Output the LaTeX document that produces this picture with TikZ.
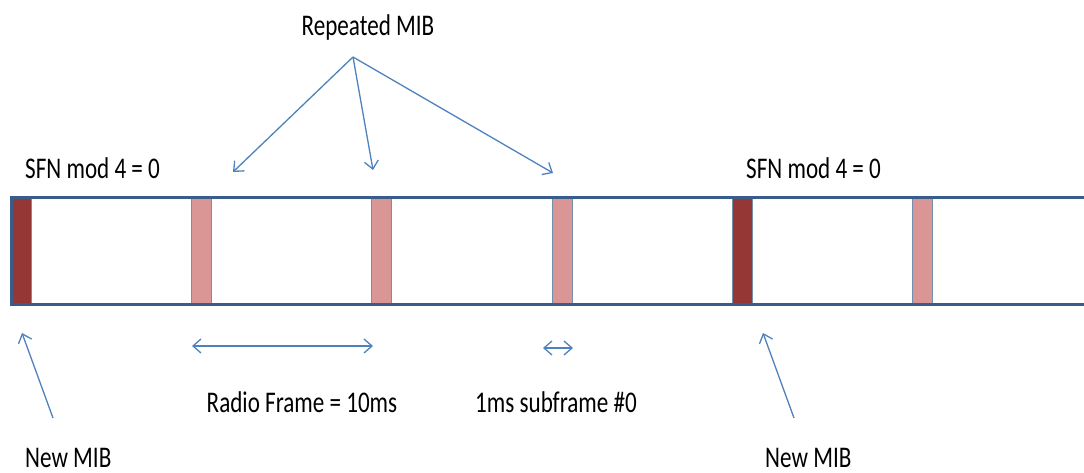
\documentclass[tikz,border=0pt]{standalone}
\usepackage{fontspec}
\setmainfont{Carlito}
\newfontfamily\lblfont[FakeStretch=0.77]{Carlito}
\usetikzlibrary{arrows.meta}
\definecolor{barblue}{HTML}{385D8A}
\definecolor{arrowblue}{HTML}{4F81BD}
\definecolor{mibdark}{HTML}{953735}
\definecolor{mibpale}{HTML}{D99694}
\tikzset{
  lbl/.style={font=\lblfont\fontsize{30}{34}\selectfont, inner sep=0pt, anchor=base},
  mibnew/.style={fill=mibdark, draw=barblue!70, line width=0.8pt, minimum width=20pt, minimum height=106pt, inner sep=0pt},
  mibrep/.style={fill=mibpale, draw=barblue!70, line width=0.8pt, minimum width=20pt, minimum height=106pt, inner sep=0pt},
  barline/.style={draw=barblue, line width=3pt},
  pointer/.style={draw=arrowblue, line width=1.3pt, -{Straight Barb[length=8pt, width=14pt, line width=1.3pt]}},
  span/.style={draw=arrowblue, line width=1.3pt, {Straight Barb[length=8pt, width=14pt, line width=1.3pt]}-{Straight Barb[length=8pt, width=14pt, line width=1.3pt]}}
}
\begin{document}
\begin{tikzpicture}[x=1pt, y=-1pt]
\useasboundingbox (0,0) rectangle (1084,473);

% MIB blocks inside the frame strip
\node[mibnew] (b0) at (21,251) {};
\node[mibrep] (b1) at (201,251) {};
\node[mibrep] (b2) at (381,251) {};
\node[mibrep] (b3) at (562,251) {};
\node[mibnew] (b4) at (742,251) {};
\node[mibrep] (b5) at (922,251) {};

% frame strip, open on the right
\coordinate (tl) at (11,198);
\coordinate (bl) at (11,304);
\coordinate (tr) at (1084,198);
\coordinate (br) at (1084,304);
\draw[barline] (tr) -- (tl) -- (bl) -- (br);

% labels (positions are baselines)
\node[lbl] (rep) at (368,36) {Repeated MIB};
\node[lbl, anchor=base west] (sfn1) at (25,179) {SFN mod 4 = 0};
\node[lbl, anchor=base west] (sfn2) at (746,179) {SFN mod 4 = 0};
\node[lbl] (radio) at (302,412) {Radio Frame = 10ms};
\node[lbl] (sub) at (556,412) {1ms subframe \#0};
\node[lbl, text depth=0pt, anchor=base west] (new1) at (25,467) {New MIB};
\node[lbl, text depth=0pt, anchor=base west] (new2) at (765,467) {New MIB};

% pointers from the repeated-MIB label
\coordinate (apex) at (353,57);
\coordinate (r1) at (233,172);
\coordinate (r2) at (373,170);
\coordinate (r3) at (553,173);
\draw[pointer] (apex) -- (r1);
\draw[pointer] (apex) -- (r2);
\draw[pointer] (apex) -- (r3);

% pointers from the new-MIB labels
\coordinate (n1tail) at (53,418);
\coordinate (n1tip) at (22,333);
\coordinate (n2tail) at (794,418);
\coordinate (n2tip) at (763,333);
\draw[pointer] (n1tail) -- (n1tip);
\draw[pointer] (n2tail) -- (n2tip);

% duration spans
\coordinate (fa) at (192,346);
\coordinate (fb) at (373,346);
\coordinate (sa) at (543,348);
\coordinate (sb) at (573,348);
\draw[span] (fa) -- (fb);
\draw[span] (sa) -- (sb);
\end{tikzpicture}
\end{document}
